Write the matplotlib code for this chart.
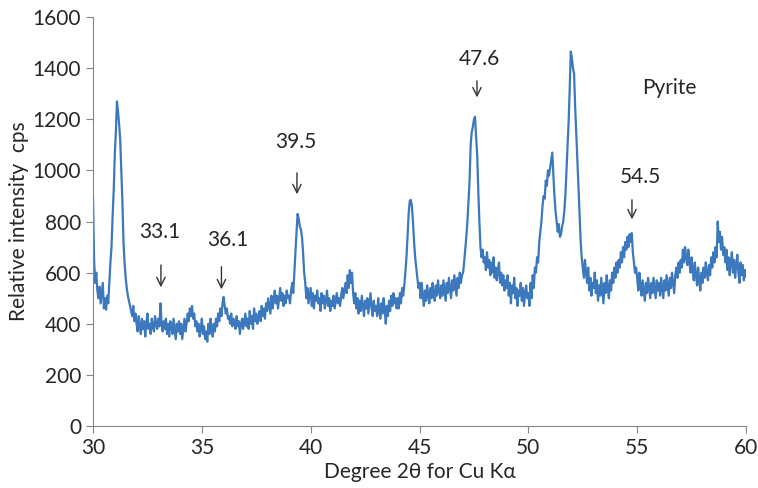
import numpy as np
import matplotlib
matplotlib.use('Agg')
import matplotlib.pyplot as plt

plt.rcParams['font.family'] = ['Lato', 'DejaVu Sans']

# 2-theta from 30 to 60 in 0.05 steps, one row per degree
x_start = 30.0
x_step = 0.05
intensity_rows = [
    [890, 650, 560, 600, 530, 500, 545, 480, 520, 560, 460, 500, 455, 510, 480, 560, 640, 700, 820, 920],
    [1060, 1150, 1270, 1230, 1180, 1120, 1000, 880, 720, 640, 580, 540, 510, 490, 470, 450, 430, 470, 410, 440],
    [400, 370, 430, 390, 360, 420, 380, 410, 350, 400, 440, 380, 400, 360, 420, 390, 370, 430, 400, 380],
    [420, 390, 480, 400, 370, 410, 380, 420, 360, 400, 350, 410, 390, 360, 420, 380, 340, 400, 370, 410],
    [360, 400, 340, 380, 420, 370, 400, 440, 410, 460, 430, 470, 420, 440, 390, 410, 370, 400, 350, 380],
    [420, 360, 390, 340, 370, 330, 400, 360, 420, 380, 350, 400, 370, 420, 390, 440, 410, 460, 430, 480],
    [505, 470, 440, 460, 420, 430, 400, 440, 390, 420, 410, 380, 430, 390, 410, 360, 400, 420, 380, 410],
    [440, 390, 420, 380, 450, 400, 430, 380, 460, 410, 440, 400, 420, 450, 410, 470, 430, 460, 420, 480],
    [450, 500, 470, 440, 510, 460, 490, 530, 480, 510, 460, 500, 540, 490, 520, 470, 510, 480, 530, 500],
    [510, 480, 530, 560, 520, 600, 680, 760, 830, 810, 780, 770, 740, 680, 600, 560, 500, 540, 480, 510],
    [540, 470, 520, 460, 510, 490, 530, 480, 500, 450, 520, 480, 510, 460, 490, 530, 470, 500, 450, 490],
    [470, 510, 460, 490, 520, 480, 500, 470, 510, 540, 500, 530, 560, 520, 590, 540, 610, 560, 600, 520],
    [480, 520, 460, 500, 440, 490, 450, 510, 470, 430, 490, 460, 500, 440, 480, 520, 460, 430, 490, 450],
    [470, 430, 500, 450, 420, 480, 440, 500, 460, 400, 470, 430, 490, 450, 510, 470, 520, 480, 500, 460],
    [500, 460, 520, 480, 540, 510, 550, 600, 660, 740, 830, 880, 885, 860, 800, 720, 660, 620, 580, 540],
    [560, 500, 560, 510, 470, 530, 490, 550, 510, 480, 540, 500, 560, 520, 490, 550, 510, 570, 530, 500],
    [550, 510, 570, 530, 490, 560, 520, 580, 540, 500, 570, 530, 590, 550, 510, 580, 540, 600, 560, 590],
    [600, 640, 690, 740, 800, 880, 960, 1100, 1150, 1170, 1200, 1210, 1130, 1060, 920, 800, 700, 660, 690, 640],
    [660, 610, 680, 620, 650, 590, 640, 600, 660, 580, 620, 570, 610, 640, 560, 600, 550, 590, 530, 570],
    [540, 590, 510, 560, 480, 550, 520, 580, 500, 540, 470, 530, 510, 560, 490, 540, 470, 520, 550, 500],
    [520, 470, 560, 500, 590, 540, 620, 600, 660, 640, 720, 760, 800, 860, 900, 890, 960, 940, 1000, 980],
    [1010, 1040, 1070, 980, 900, 840, 800, 760, 790, 740, 750, 780, 800, 840, 900, 1000, 1100, 1190, 1320, 1465],
    [1440, 1400, 1380, 1250, 1150, 1050, 940, 830, 730, 660, 620, 580, 650, 600, 560, 620, 530, 580, 510, 560],
    [540, 600, 520, 570, 490, 550, 510, 580, 530, 480, 560, 520, 590, 540, 500, 570, 530, 600, 560, 620],
    [580, 640, 600, 650, 620, 680, 640, 700, 660, 720, 690, 740, 700, 750, 720, 755, 680, 640, 600, 620],
    [580, 530, 600, 550, 510, 570, 530, 490, 560, 520, 580, 540, 500, 560, 520, 580, 540, 500, 570, 530],
    [560, 510, 580, 540, 500, 570, 530, 590, 550, 510, 580, 540, 600, 560, 520, 590, 620, 580, 640, 600],
    [650, 620, 690, 640, 700, 660, 630, 690, 640, 600, 660, 610, 570, 640, 590, 550, 620, 570, 530, 600],
    [560, 620, 580, 640, 600, 570, 630, 590, 660, 620, 680, 640, 700, 660, 800, 720, 760, 690, 740, 670],
    [700, 640, 690, 610, 660, 590, 640, 680, 600, 650, 580, 630, 670, 600, 560, 640, 590, 630, 570, 610],
]
last_value = 585

# peak labels: text, text position, arrow x, arrow top, arrow bottom
peak_labels = ['33.1', '36.1', '39.5', '47.6', '54.5']
label_x = [33.08, 36.2, 39.32, 47.73, 55.13]
label_y = [759, 727, 1110, 1436, 974]
arrow_x = [33.12, 35.9, 39.37, 47.64, 54.76]
arrow_top = [641, 634, 1001, 1361, 896]
arrow_bottom = [532, 524, 896, 1275, 798]

intensity = np.array([v for row in intensity_rows for v in row] + [last_value])
two_theta = x_start + x_step * np.arange(len(intensity))

fs = 15
txt_color = '#262626'

fig = plt.figure(figsize=(7.58, 4.88), dpi=100)
ax = fig.add_axes([0.1227, 0.127, 0.8615, 0.838])

ax.plot(two_theta, intensity, color='#3b78bd', lw=1.6)

for txt, tx, ty, axx, at, ab in zip(peak_labels, label_x, label_y, arrow_x, arrow_top, arrow_bottom):
    ax.text(tx, ty, txt, ha='center', va='center', fontsize=fs, color=txt_color)
    ax.annotate('', xy=(axx, ab), xytext=(axx, at),
                arrowprops=dict(arrowstyle='->,head_length=0.6,head_width=0.3', color='#333333', lw=1.0))

ax.text(56.46, 1322, 'Pyrite', ha='center', va='center', fontsize=fs, color=txt_color)

ax.set_xlim(30, 60)
ax.set_ylim(0, 1600)
ax.set_xticks(np.arange(30, 61, 5))
ax.set_yticks(np.arange(0, 1601, 200))
ax.set_xlabel('Degree 2θ for Cu Kα', fontsize=fs, color=txt_color, labelpad=3)
ax.set_ylabel('Relative intensity  cps', fontsize=fs, color=txt_color, labelpad=3)

for side in ['top', 'right']:
    ax.spines[side].set_visible(False)
for side in ['left', 'bottom']:
    ax.spines[side].set_color('#868686')
ax.tick_params(axis='both', colors='#868686', labelcolor=txt_color, labelsize=fs, length=5, direction='out')

fig.savefig('out.png', dpi=100)
